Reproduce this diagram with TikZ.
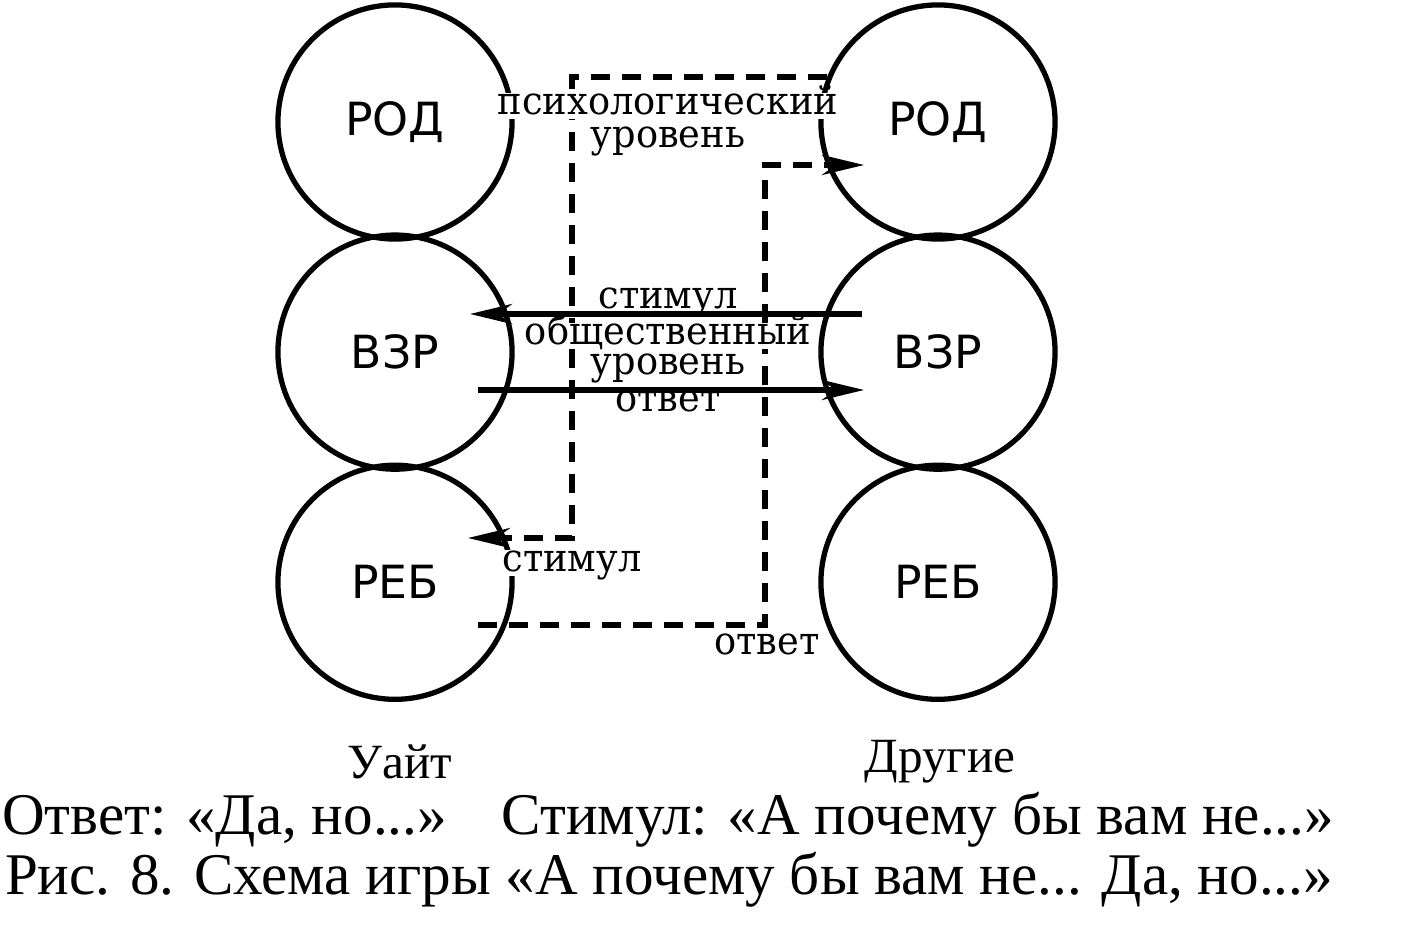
\documentclass[tikz,border=0pt]{standalone}
\usepackage{fontspec}
\setmainfont{Liberation Serif}
\newfontfamily\labfont[FakeStretch=0.95]{DejaVu Serif}
\newfontfamily\egofont{DejaVu Sans}
\usetikzlibrary{arrows.meta}

\begin{document}
\begin{tikzpicture}[x=0.01cm,y=-0.01cm,node distance=2.3cm,
    ego/.style={circle,draw,line width=1.5pt,minimum size=2.34cm,inner sep=0pt,
      font=\egofont\fontsize{13}{15}\selectfont},
    lab/.style={fill=white,inner sep=0.5pt,text height=1.2ex,text depth=0.2ex,
      font=\labfont\fontsize{11}{12}\selectfont},
    tx/.style={line width=1.6pt,-{Stealth[length=0.42cm,width=0.2cm]}},
    psy/.style={tx,dash pattern=on 0.19cm off 0.12cm}]

  \useasboundingbox (0,0) rectangle (1402,940);

  %Уайт%
  \node[ego] (rodL) at (395,122) {РОД};
  \node[ego] (vzrL) [below of=rodL] {ВЗР};
  \node[ego] (rebL) [below of=vzrL] {РЕБ};
  %Другие%
  \node[ego] (rodR) at (938,122) {РОД};
  \node[ego] (vzrR) [below of=rodR] {ВЗР};
  \node[ego] (rebR) [below of=vzrR] {РЕБ};

  %ends%
  \coordinate (sOut) at (862,314);
  \coordinate (sIn)  at (470,314);
  \coordinate (rOut) at (478,390);
  \coordinate (rIn)  at (864,390);
  \coordinate (cL)   at (572,538);
  \coordinate (tipL) at (468,538);
  \coordinate (pOut) at (478,625);
  \coordinate (cR)   at (765,165);
  \coordinate (tipR) at (864,165);

  %psychological level%
  \draw[psy] (rodR.158) -| (cL) -- (tipL);
  \draw[psy] (pOut) -| (cR) -- (tipR);

  \node[lab] (psyA) at (668,106) {психологический};
  \node[lab] (psyB) at (668,139) {уровень};
  \node[lab] (socS) at (668,300) {стимул};
  \node[lab] (socA) at (668,336) {общественный};
  \node[lab] (socB) at (668,366) {уровень};
  \node[lab] (socR) at (668,403) {ответ};
  \node[lab] (psyS) at (572,563) {стимул};
  \node[lab] (psyR) at (767,646) {ответ};

  %social level%
  \draw[tx] (sOut) -- (sIn);
  \draw[tx] (rOut) -- (rIn);

  \node[font=\fontsize{14}{16}\selectfont] (white) at (400,762) {Уайт};
  \node[font=\fontsize{14}{16}\selectfont] (others) at (940,762) {Другие};
  \node[font=\fontsize{16.8}{20}\selectfont] (key) at (668,820)
    {Ответ: «Да, но...»\hspace{0.55cm}Стимул: «А почему бы вам не...»};
  \node[font=\fontsize{16.8}{20}\selectfont] (cap) at (669,880)
    {Рис. 8. Схема игры «А почему бы вам не... Да, но...»};
\end{tikzpicture}
\end{document}
